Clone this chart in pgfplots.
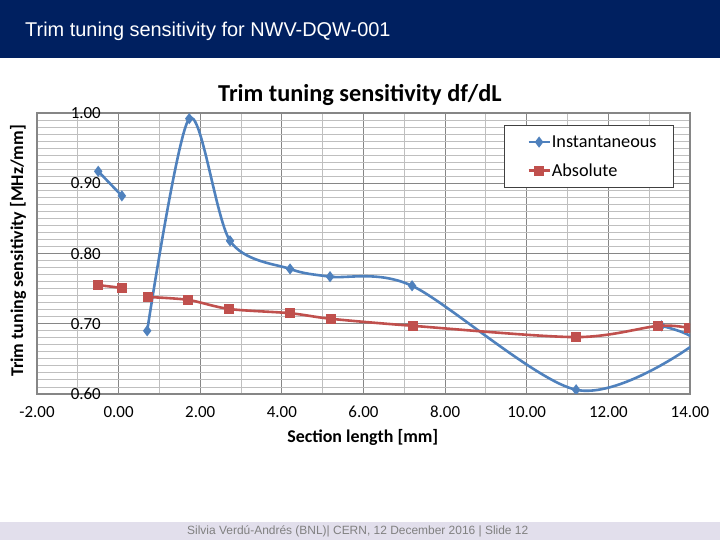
\documentclass[border=0pt]{standalone}
\usepackage{fontspec}
\setmainfont{Carlito}
\newfontfamily\arialfont{Liberation Sans}
\usepackage{pgfplots}
\pgfplotsset{compat=1.18}

\definecolor{hdrblue}{RGB}{0,32,96}
\definecolor{ftrband}{RGB}{226,223,236}
\definecolor{ftrtext}{RGB}{128,128,128}
\definecolor{instblue}{RGB}{79,129,189}
\definecolor{absred}{RGB}{192,80,77}
\definecolor{majgrid}{RGB}{134,134,134}
\definecolor{mingrid}{RGB}{191,191,191}

\begin{document}
\begin{tikzpicture}
\path[use as bounding box] (0,0) rectangle (720bp,540bp);
% slide header and footer
\fill[hdrblue] (0,482bp) rectangle (720bp,540bp);
\node[anchor=west, text=white, inner sep=0pt, font=\arialfont\fontsize{20}{24}\selectfont]
  at (25bp,509bp) {Trim tuning sensitivity for NWV-DQW-001};
\fill[ftrband] (0,0) rectangle (720bp,18bp);
\node[anchor=west, text=ftrtext, inner sep=0pt, font=\arialfont\fontsize{12}{14}\selectfont]
  at (187bp,9bp) {Silvia Verdú-Andrés (BNL)| CERN, 12 December 2016 | Slide 12};

\begin{axis}[
    at={(37bp,146bp)}, anchor=south west,
    scale only axis, width=653bp, height=281bp,
    xmin=-2, xmax=14, ymin=0.6, ymax=1.0,
    xtick={-2,0,...,14}, ytick={0.6,0.7,0.8,0.9,1.0},
    minor x tick num=1, minor y tick num=9,
    major tick length=0pt, minor tick length=0pt,
    grid=both,
    major grid style={draw=majgrid, line width=1.2bp},
    minor grid style={draw=mingrid, line width=0.9bp},
    axis line style={draw=majgrid, line width=1.2bp},
    /pgf/number format/assume math mode=true,
    /pgf/number format/.cd, fixed, fixed zerofill, precision=2, /pgfplots/.cd,
    xticklabel style={inner sep=0pt, text height=11bp, text depth=0pt, yshift=-12bp,
                      font=\fontsize{17}{19}\selectfont},
    yticklabel style={anchor=east, inner sep=0pt, xshift=64bp, font=\fontsize{17}{19}\selectfont},
    title={Trim tuning sensitivity df/dL},
    title style={at={(axis description cs:0.4946,1)}, anchor=center, yshift=12bp,
                 font=\bfseries\fontsize{24.4}{28}\selectfont},
    xlabel={Section length [mm]},
    xlabel style={at={(axis description cs:0.499,0)}, anchor=center, yshift=-43bp,
                  font=\bfseries\fontsize{18}{21}\selectfont},
    ylabel={Trim tuning sensitivity [MHz/mm]},
    ylabel style={at={(axis description cs:-0.029,0.509)}, anchor=center,
                  font=\bfseries\fontsize{18}{21}\selectfont},
    legend style={at={(axis description cs:0.9755,0.957)}, anchor=north east,
                  draw=black!75, line width=0.8bp, fill=white,
                  font=\fontsize{18.3}{21}\selectfont,
                  nodes={inner sep=1bp},
                  inner xsep=16bp, inner ysep=9bp, row sep=13bp},
    legend cell align=left,
    legend image code/.code={
      \path (-7bp,0bp);
      \draw[mark repeat=2, mark phase=2] plot coordinates {(0bp,0bp) (10.5bp,0bp) (21bp,0bp)};},
    clip marker paths=true,
    every axis plot/.append style={smooth, line width=2.6bp},
]
% Instantaneous
\addplot[instblue, mark=diamond*, mark size=3.5bp, mark options={solid}, forget plot]
  coordinates {(-0.50,0.917) (0.08,0.882)};
\addplot[instblue, mark=diamond*, mark size=3.5bp, mark options={solid}]
  coordinates {(0.70,0.690) (1.73,0.992) (2.73,0.818) (4.20,0.778) (5.18,0.767)
               (7.19,0.754) (11.21,0.606) (14.08,0.670) (13.30,0.697)};
\addlegendentry{Instantaneous}
% Absolute
\addplot[absred, mark=square*, mark size=3.8bp, mark options={solid}, forget plot]
  coordinates {(-0.50,0.755) (0.08,0.751)};
\addplot[absred, mark=square*, mark size=3.8bp, mark options={solid}]
  coordinates {(0.72,0.738) (1.70,0.734) (2.71,0.721) (4.20,0.715) (5.21,0.707)
               (7.22,0.697) (11.21,0.681) (13.22,0.697) (13.97,0.694)};
\addlegendentry{Absolute}
\end{axis}
\end{tikzpicture}
\end{document}
